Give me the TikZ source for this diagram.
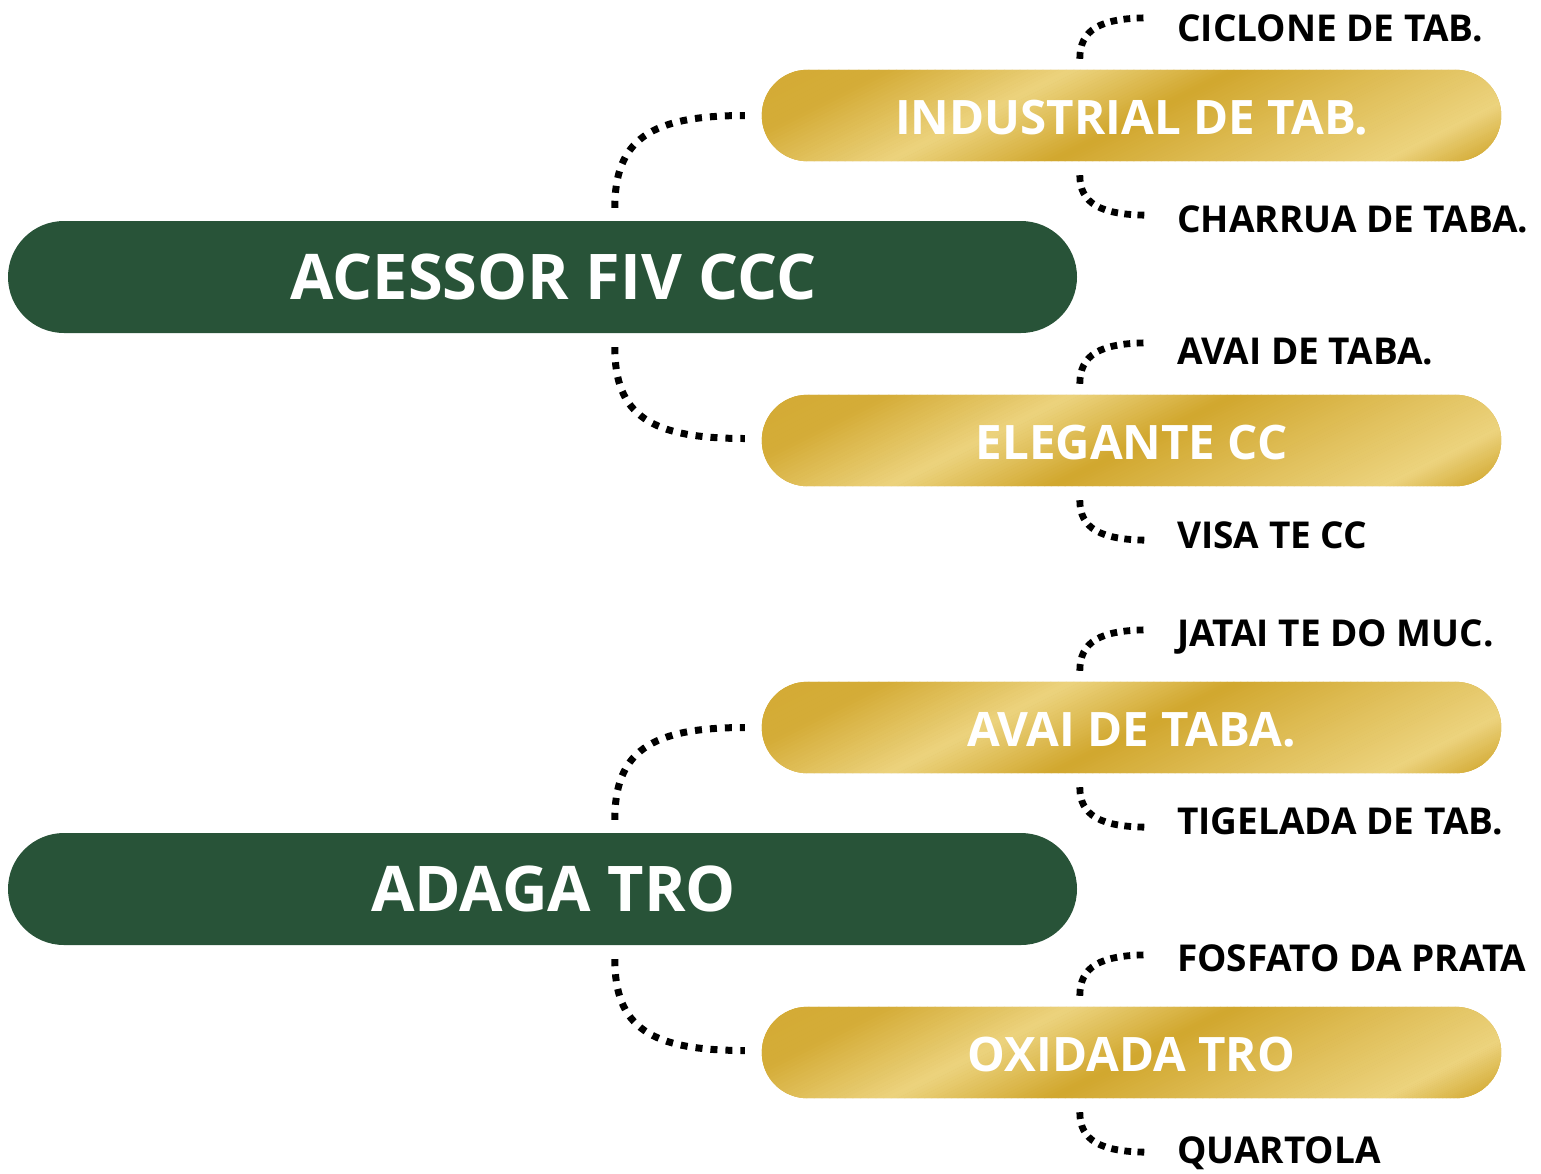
\documentclass[tikz,border=0pt]{standalone}
\usepackage{fontspec}
\setmainfont{Open Sans}
\usetikzlibrary{calc,backgrounds}
\definecolor{gr}{RGB}{40,83,56}
\definecolor{gd}{RGB}{209,167,46}
\definecolor{gl}{RGB}{236,211,126}
\newcommand{\goldbg}[1]{%
  \begin{scope}[on background layer]
  \begin{scope}
    \clip[rounded corners=45.5pt] (#1.north west) rectangle (#1.south east);
    \fill[gd] ($(#1.south west)+(-5,5)$) rectangle ($(#1.north east)+(5,-5)$);
    \foreach \ua/\ub/\ma/\mb in {-300/-60/5/12, -60/125/12/100, 125/285/100/0, 285/450/0/50, 450/620/50/100, 620/710/100/12, 710/1000/12/0}{
      \foreach \i in {0,...,23}{
        \pgfmathsetmacro\xa{\ua+(\ub-\ua)*\i/24}
        \pgfmathsetmacro\xb{\ua+(\ub-\ua)*(\i+1)/24+0.8}
        \pgfmathsetmacro\mm{\ma+(\mb-\ma)*(\i+0.5)/24}
        \fill[gl!\mm!gd] ($(#1.south west)+(\xa,2)$) -- ($(#1.south west)+(\xb,2)$) -- ($(#1.south west)+(\xb+190,-93)$) -- ($(#1.south west)+(\xa+190,-93)$) -- cycle;
      }
    }
  \end{scope}
  \end{scope}}
\begin{document}
\begin{tikzpicture}[x=1pt,y=-1pt,
  greenpill/.style={rectangle, rounded corners=56pt, fill=gr, minimum width=1069pt, minimum height=112pt, inner sep=0pt, text=white, font=\fontsize{63}{70}\selectfont\bfseries, text height=45pt, text depth=0pt},
  goldpill/.style={rectangle, minimum width=739pt, minimum height=91pt, inner sep=0pt, text=white, font=\fontsize{47.5}{56}\selectfont\bfseries, text height=38pt, text depth=0pt},
  leaf/.style={anchor=west, inner sep=0pt, font=\fontsize{37}{40}\selectfont\bfseries, text height=26.4pt, text depth=0pt},
  dotmain/.style={line width=7pt, dash pattern=on 7pt off 8pt, black},
  dotsmall/.style={line width=6.8pt, dash pattern=on 6.8pt off 6.4pt, black}]
\useasboundingbox (0,0) rectangle (1541,1173);
% main nodes
\node[greenpill] (g1) at (542.5,277) {\hspace*{22pt}ACESSOR FIV CCC};
\node[greenpill] (g2) at (542.5,889) {\hspace*{22pt}ADAGA TRO};
\node[goldpill] (y1) at (1131.5,115.5) {INDUSTRIAL DE TAB.};
\node[goldpill] (y2) at (1131.5,440.5) {ELEGANTE CC};
\node[goldpill] (y3) at (1131.5,727.5) {AVAI DE TABA.};
\node[goldpill] (y4) at (1131.5,1052.5) {OXIDADA TRO};
\goldbg{y1}\goldbg{y2}\goldbg{y3}\goldbg{y4}
% leaves
\node[leaf] (l1) at (1177,28) {CICLONE DE TAB.};
\node[leaf] (l2) at (1177,219.5) {CHARRUA DE TABA.};
\node[leaf] (l3) at (1177,351) {AVAI DE TABA.};
\node[leaf] (l4) at (1177,535) {VISA TE CC};
\node[leaf] (l5) at (1177,633) {JATAI TE DO MUC.};
\node[leaf] (l6) at (1177,821) {TIGELADA DE TAB.};
\node[leaf] (l7) at (1177,958) {FOSFATO DA PRATA};
\node[leaf] (l8) at (1177,1150) {QUARTOLA};
% main connectors
\foreach \g/\ya/\yb in {g1/y1/y2, g2/y3/y4}{
  \coordinate (\g u) at ($(\g.north west)+(607,-13)$);
  \coordinate (\g d) at ($(\g.south west)+(607,14)$);
  \coordinate (\ya e) at ($(\ya.west)+(-17,0)$);
  \coordinate (\yb e) at ($(\yb.west)+(-17,-2)$);
  \draw[dotmain] (\g u) .. controls +(0,-68) and +(-95,0) .. (\ya e);
  \draw[dotmain] (\g d) .. controls +(0,68) and +(-95,0) .. (\yb e);
}
% small connectors
\foreach \y in {y1,y2,y3,y4}{
  \coordinate (\y ts) at ($(\y.north west)+(318,-11)$);
  \coordinate (\y te) at ($(\y ts)+(70,-41)$);
  \coordinate (\y bs) at ($(\y.south west)+(318,14)$);
  \coordinate (\y be) at ($(\y bs)+(70,40)$);
  \draw[dotsmall] (\y ts) .. controls +(0,-29) and +(-50,0) .. (\y te);
  \draw[dotsmall] (\y bs) .. controls +(0,28) and +(-50,0) .. (\y be);
}
\end{tikzpicture}
\end{document}
